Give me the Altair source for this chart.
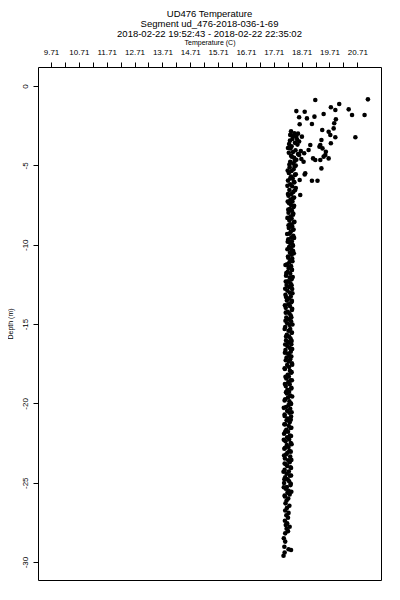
import altair as alt
import pandas as pd

title_lines = ["UD476 Temperature", "Segment ud_476-2018-036-1-69",
               "2018-02-22 19:52:43 - 2018-02-22 22:35:02"]
x_ticks = [9.71, 10.21, 10.71, 11.21, 11.71, 12.21, 12.71, 13.21, 13.71, 14.21, 14.71,
           15.21, 15.71, 16.21, 16.71, 17.21, 17.71, 18.21, 18.71, 19.21, 19.71, 20.21, 20.71]
y_ticks = [0, -5, -10, -15, -20, -25, -30]

# near-surface scattered samples
surf_temp = [19.20, 21.09, 20.06, 19.76, 19.92, 20.40, 18.52, 18.82, 19.50, 20.52,
             20.97, 18.62, 18.90, 19.17, 19.94, 19.88, 18.64, 19.08, 19.45, 19.68,
             19.86, 19.74, 18.72, 19.92, 20.64, 19.42, 19.02, 19.76, 19.35, 19.46,
             18.96, 19.58, 18.80, 19.20, 19.38, 19.68, 18.78, 19.50, 19.42, 18.82,
             19.08, 19.28, 18.64, 18.66, 19.38, 19.12, 19.56, 18.84]
surf_depth = [-0.88, -0.84, -1.13, -1.34, -1.51, -1.47, -1.58, -1.62, -1.76, -1.83,
              -1.83, -1.97, -2.04, -1.93, -2.10, -2.35, -2.41, -2.39, -2.77, -2.88,
              -2.67, -3.09, -3.19, -3.23, -3.23, -3.40, -3.72, -3.61, -3.82, -3.93,
              -4.03, -4.14, -4.24, -4.66, -4.66, -4.56, -4.77, -4.45, -5.19, -5.57,
              -5.97, -5.97, -5.92, -6.87, -3.72, -4.56, -4.35, -5.50]

# upper column (-2.8 to -5 m)
upper_depth = [-2.85, -2.97, -3.08, -3.21, -3.33, -3.44, -3.58, -3.69, -3.80, -3.93,
               -4.05, -4.16, -4.29, -4.40, -4.52, -4.65, -4.77, -4.88, -5.01,
               -3.00, -3.50, -4.10, -4.35, -4.60, -4.20, -3.90, -3.15, -3.65, -4.45,
               -4.95, -3.38, -4.72]
upper_temp = [18.33, 18.45, 18.30, 18.52, 18.38, 18.29, 18.47, 18.56, 18.35, 18.31,
              18.49, 18.40, 18.58, 18.33, 18.44, 18.52, 18.30, 18.41, 18.50,
              18.58, 18.62, 18.68, 18.62, 18.70, 18.25, 18.22, 18.41, 18.26, 18.36,
              18.27, 18.55, 18.46]

# -5 to -11 m
mid_depth = [-5.12, -5.24, -5.35, -5.48, -5.60, -5.71, -5.83, -5.96, -6.07, -6.19,
             -6.32, -6.43, -6.55, -6.67, -6.80, -6.91, -7.03, -7.15,
             -7.27, -7.39, -7.50, -7.63, -7.75, -7.86, -7.99, -8.11, -8.22, -8.35,
             -8.47, -8.58, -8.71, -8.83, -8.94, -9.07, -9.19, -9.30, -9.43, -9.55,
             -9.66, -9.79, -9.91, -10.02, -10.15, -10.27, -10.38, -10.51, -10.63, -10.74,
             -10.87, -10.99]
mid_temp = [18.28, 18.42, 18.35, 18.25, 18.47, 18.33, 18.39, 18.22, 18.45, 18.30,
            18.37, 18.50, 18.27, 18.41, 18.34, 18.24, 18.44, 18.31,
            18.38, 18.26, 18.33, 18.42, 18.29, 18.36, 18.24, 18.40, 18.31, 18.35,
            18.27, 18.43, 18.30, 18.37, 18.25, 18.39, 18.32, 18.28, 18.41, 18.34,
            18.23, 18.36, 18.30, 18.39, 18.26, 18.33, 18.40, 18.29, 18.35, 18.22,
            18.37, 18.31]

# -11 to -20 m
low_depth = [-11.11, -11.23, -11.35, -11.46, -11.59, -11.71, -11.82, -11.95, -12.07, -12.18,
             -12.31, -12.43, -12.54, -12.67, -12.79, -12.90, -13.03, -13.15, -13.26, -13.39,
             -13.51, -13.62, -13.75, -13.87, -13.98, -14.11, -14.23, -14.34, -14.47, -14.59,
             -14.70, -14.83, -14.95, -15.06, -15.19, -15.31, -15.42, -15.55, -15.67, -15.78,
             -15.91, -16.03, -16.14, -16.27, -16.39, -16.50, -16.63, -16.75, -16.86, -16.99,
             -17.11, -17.22, -17.35, -17.47, -17.58, -17.71, -17.83, -17.94, -18.07, -18.19,
             -18.30, -18.43, -18.55, -18.66, -18.79, -18.91, -19.02, -19.15, -19.27, -19.38,
             -19.51, -19.63, -19.74, -19.87, -19.99]
low_temp = [18.27, 18.19, 18.33, 18.24, 18.36, 18.21, 18.30, 18.15, 18.28, 18.35,
            18.22, 18.31, 18.17, 18.26, 18.37, 18.20, 18.29, 18.13, 18.32, 18.25,
            18.18, 18.34, 18.23, 18.29, 18.14, 18.36, 18.21, 18.27, 18.32, 18.16,
            18.25, 18.33, 18.19, 18.28, 18.12, 18.30, 18.24, 18.35, 18.18, 18.26,
            18.31, 18.15, 18.23, 18.34, 18.20, 18.28, 18.13, 18.32, 18.22, 18.27,
            18.17, 18.30, 18.24, 18.36, 18.19, 18.26, 18.11, 18.29, 18.33, 18.21,
            18.25, 18.16, 18.31, 18.23, 18.28, 18.14, 18.34, 18.20, 18.26, 18.18,
            18.30, 18.22, 18.12, 18.27, 18.32]

# -20 to -26 m
deep_depth = [-20.11, -20.23, -20.34, -20.47, -20.59, -20.70, -20.83, -20.95, -21.06, -21.19,
              -21.31, -21.42, -21.55, -21.67, -21.78, -21.91, -22.03, -22.14, -22.27, -22.39,
              -22.50, -22.63, -22.75, -22.86, -22.99, -23.11, -23.22, -23.35, -23.47, -23.58,
              -23.71, -23.83, -23.94, -24.07, -24.19, -24.30, -24.43, -24.55, -24.66, -24.79,
              -24.91, -25.02, -25.15, -25.27, -25.38, -25.51, -25.63, -25.74, -25.87, -25.99,
              -26.12]
deep_temp = [18.24, 18.15, 18.30, 18.19, 18.27, 18.10, 18.33, 18.21, 18.17, 18.28,
             18.12, 18.25, 18.31, 18.16, 18.22, 18.08, 18.29, 18.19, 18.26, 18.13,
             18.32, 18.18, 18.24, 18.09, 18.27, 18.20, 18.15, 18.30, 18.11, 18.23,
             18.28, 18.14, 18.19, 18.33, 18.10, 18.25, 18.17, 18.29, 18.12, 18.21,
             18.26, 18.08, 18.31, 18.18, 18.14, 18.24, 18.20, 18.28, 18.11, 18.23,
             18.17]

# second pass through the column (-5 to -26 m)
pass2_depth = [-5.07, -5.33, -5.56, -5.82, -6.04, -6.29, -6.57, -6.81, -7.06, -7.28,
               -7.54, -7.79, -8.03, -8.31, -8.56, -8.78, -9.04, -9.32, -9.57, -9.81,
               -10.06, -10.29, -10.54, -10.82, -11.04, -11.28, -11.57, -11.79, -12.03, -12.32,
               -12.56, -12.78, -13.06, -13.29, -13.54, -13.81, -14.04, -14.28, -14.57, -14.79,
               -15.03, -15.31, -15.54, -15.78, -16.06, -16.29, -16.57, -16.81, -17.04, -17.28,
               -17.56, -17.79, -18.03, -18.32, -18.54, -18.78, -19.06, -19.29, -19.57, -19.81,
               -20.04, -20.28, -20.56, -20.79, -21.03, -21.32, -21.54, -21.78, -22.06, -22.29,
               -22.57, -22.81, -23.04, -23.28, -23.56, -23.79, -24.03, -24.31, -24.54, -24.78,
               -25.06, -25.29, -25.57, -25.81]
pass2_temp = [18.46, 18.21, 18.50, 18.30, 18.43, 18.20, 18.47, 18.22, 18.40, 18.21,
              18.44, 18.23, 18.41, 18.20, 18.45, 18.24, 18.42, 18.19, 18.44, 18.21,
              18.40, 18.20, 18.43, 18.23, 18.38, 18.13, 18.36, 18.16, 18.39, 18.14,
              18.35, 18.12, 18.38, 18.15, 18.36, 18.11, 18.37, 18.14, 18.34, 18.13,
              18.38, 18.10, 18.36, 18.15, 18.35, 18.12, 18.37, 18.11, 18.34, 18.14,
              18.37, 18.10, 18.35, 18.13, 18.36, 18.11, 18.34, 18.15, 18.37, 18.10,
              18.33, 18.07, 18.35, 18.10, 18.32, 18.09, 18.34, 18.12, 18.33, 18.07,
              18.35, 18.11, 18.32, 18.08, 18.34, 18.10, 18.31, 18.06, 18.33, 18.09,
              18.32, 18.07, 18.34, 18.10]

# bottom, sparse
bottom_depth = [-26.30, -26.45, -26.60, -26.75, -26.90, -27.05, -27.20, -27.40, -27.55, -27.66,
                -27.77, -27.90, -28.05, -28.19, -28.50, -28.71, -29.03, -29.19, -29.24, -29.40,
                -29.60]
bottom_temp = [18.13, 18.27, 18.18, 18.12, 18.24, 18.16, 18.22, 18.11, 18.19, 18.14,
               18.28, 18.17, 18.22, 18.12, 18.07, 18.12, 18.09, 18.24, 18.33, 18.10,
               18.06]

temps, depths = [], []
for t_list, d_list in [(surf_temp, surf_depth), (upper_temp, upper_depth), (mid_temp, mid_depth),
                       (low_temp, low_depth), (deep_temp, deep_depth), (pass2_temp, pass2_depth),
                       (bottom_temp, bottom_depth)]:
    for t, d in zip(t_list, d_list):
        temps.append(t)
        depths.append(d)

df = pd.DataFrame({"temp": temps, "depth": depths})

FONT = "Liberation Sans"

chart = alt.Chart(df).mark_circle(size=21, color="black", opacity=1).encode(
    x=alt.X("temp:Q",
            scale=alt.Scale(domain=[9.243, 21.56], nice=False, zero=False),
            axis=alt.Axis(orient="top", values=x_ticks,
                          labelExpr="round(datum.value*100) % 100 == 71 ? format(datum.value, '.2f') : ''",
                          title="Temperature (C)", titleFontSize=7, titleFontWeight="normal",
                          titleFont=FONT, titlePadding=3, titleColor="black",
                          labelFont=FONT, labelFontSize=8, labelColor="black", labelPadding=6,
                          labelOverlap=False, labelFlush=False,
                          tickSize=5, tickColor="black", tickWidth=1,
                          domain=False, grid=False)),
    y=alt.Y("depth:Q",
            scale=alt.Scale(domain=[-31.13, 1.2], nice=False, zero=False),
            axis=alt.Axis(orient="left", values=y_ticks,
                          labelExpr="datum.value == 0 ? '0' : '-' + abs(datum.value)",
                          labelAngle=270, labelAlign="center", labelBaseline="bottom",
                          labelFont=FONT, labelFontSize=8, labelColor="black", labelPadding=4,
                          labelOverlap=False, labelFlush=False,
                          title="Depth (m)", titleFontSize=7, titleFontWeight="normal",
                          titleFont=FONT, titleColor="black", titleX=-25,
                          tickSize=5, tickColor="black", tickWidth=1,
                          domain=False, grid=False)),
).properties(
    width=343, height=513,
    title=alt.TitleParams(text=title_lines, fontSize=9.5, font=FONT, fontWeight="normal",
                          color="black", anchor="middle", lineHeight=9.7, offset=-0.25),
    autosize=alt.AutoSizeParams(type="none"),
    padding={"left": 30, "top": 59, "right": 10, "bottom": 10},
).configure_view(stroke="black", strokeWidth=1)

chart.save("out.html", embed_options={"renderer": "svg", "actions": False})
